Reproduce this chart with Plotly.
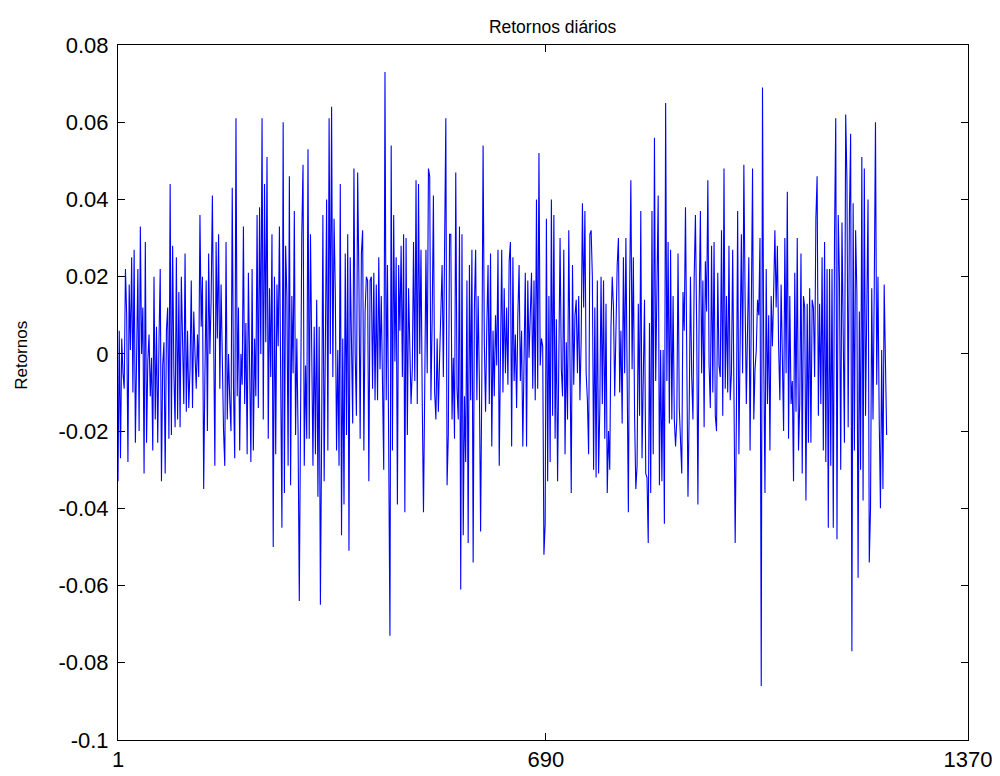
import numpy as np
import plotly.graph_objects as go

# Daily returns, in thousandths (one value every 2 days)
seg1 = [-33, 6, -27, 4, -5, -9, 22, 10, -28, 18, 1, 25, -10, 27, -23, 8, 22, -20, 33, 0,
        12, -31, 29, -23, -2, 5, -11, -1, -25, 20, -17, 7, -23, 3, 22, -33, -3, 3, -31, 6,
        12, -22, 44, -21, 28, -5, -19, 25, -17, 16, -19, 20, 2, -13, 26, -15, 6, -14, -4, 19,
        -14, 11, 0, -9, 5, -6]
seg2 = [36, 7, 20, -35, -5, 19, -20, 26, 0, 14, 41, 10, -29, 29, 4, 31, -9, 18, -6, -20,
        -29, 29, -17, 0, -12, -20, 43, -9, -27, 61, -11, 12, -25, 0, -8, 33, -13, 8, -26, 21,
        -3, -28, 22, -25, 4, -11, 36, -14, 38, 0, 61, -17, 44, 3, 51, -22, 17, -6, 31, -50,
        20, -26, 18, 2, 33, -10, -45, 60, -36]
seg3 = [28, 15, -29, 46, -34, 15, -5, 37, -21, 4, -20, -64, -17, 31, 49, -29, -3, -22, 53, -22,
        31, 3, -29, 7, -26, 14, -37, 7, -65, -20, 36, -33, 8, 40, -25, 61, 0, 64, -6, 35,
        16, -25, 1, -29, 44, -47, 4, -39, 26, -21, 31, -51, 25, 7, -18, 48, 0, -16, 47, 19,
        -22, 26, 32, -25, 11, 20, 19, -33, 19]
seg4 = [20, -9, 21, -12, 18, -12, 25, -4, 15, -10, -30, 73, -12, 23, -18, -73, 54, -25, 36, -2,
        25, -39, 23, 6, 28, -6, 31, -41, 30, -21, 17, 2, -13, -4, 29, -7, 45, -13, 44, 0,
        27, -12, -41, -9, 27, -5, 48, 46, -12, 9, 41, -10, -17, 4, -15, -1, 16, 23, -6, 31,
        61, -34, -21, 31, 31, -17, -1, -22, 47]
seg5 = [-9, -17, 33, -61, 31, -47, -11, -28, 19, -49, 23, -12, 27, -54, 12, 27, -12, 15, -7, -46,
        -6, 54, 3, -15, 7, 23, -13, 26, -24, 6, -11, 10, -3, 27, -29, -6, 27, -10, 17, -5,
        12, -8, 24, 29, -24, 25, -7, 5, -14, 10, 23, -7, 6, -24, -4, 21, -24, 19, -1, 8,
        21, -9, 19, -12, 40, -9, 52, -3, 4]
seg6 = [2, -52, -44, 35, -33, 15, -28, 40, -16, 36, -22, 9, -33, 3, 30, -4, -11, 27, -26, 3,
        -17, 32, -14, -36, 23, -8, 10, 14, -5, 15, -12, 4, 39, 12, 37, -5, -12, -26, 31, 32,
        20, -30, 12, -32, 19, -31, -14, 20, -13, 19, -22, 13, -36, -20, -30, 7, 20, 12, -11, 7,
        23, 30, -10, 6, -18, 25, -5, 30, 1, -41, 16, 45, -4]
seg7 = [25, -16, -35, -29, 13, -16, 37, -27, -5, 14, -31, -32, -49, 8, -36, 37, -26, 56, -7, 25,
        41, -34, 1, -33, 1, -44, 65, -7, 29, -18, 27, -17, 15, -17, -24, -17, 26, -14, -21, -31,
        16, 6, 38, -3, -37, -14, 20, -6, -17, 20, 36, 7, -39, 12, 37, -5, 19, -19, 24, 11,
        45, -3, -14, 28, -10, 29, -16, -20, 21, -3, -6, 32, -16]
seg8 = [48, -9, 15, -10, 28, -12, -5, 27, -9, -49, -16, 37, -26, 5, 31, -5, 49, 14, -13, 7,
        25, -25, 6, 48, -17, -4, 1, 14, 10, 30, -86, 69, -1, -36, 22, -13, 10, -25, 15, 2,
        16, 32, 12, 28, 2, -12, 18, -4, -20, 30, -5, 42, -22, 15, -13, -7, -33, 21, -15, 30,
        -25, -13, 26, -31, 15, 12, -38, 13, -23, 17, -23, 14, 12]
seg9 = [-6, 35, 46, -16, 13, -13, 25, -25, 29, -28, 22, -45, 22, -29, 22, -45, 30, 61, -48, 36,
        19, -30, 34, 7, -23, 62, 45, -19, 36, 57, -77, 39, -25, 32, 16, -58, 11, -30, 51, -38,
        48, -16, 9, 40, -54, -40, 17, -17, 17, 60, -8, 20, -17, -40, 1, -35, 18, -5, -21]

day_step = 2
x_tickvals = [1, 690, 1370]
x_ticktext = ["1", "690", "1370"]
y_tickvals = [-0.1, -0.08, -0.06, -0.04, -0.02, 0, 0.02, 0.04, 0.06, 0.08]
y_ticktext = ["-0.1", "-0.08", "-0.06", "-0.04", "-0.02", "0", "0.02", "0.04", "0.06", "0.08"]

returns = np.array(seg1 + seg2 + seg3 + seg4 + seg5 + seg6 + seg7 + seg8 + seg9) / 1000.0
days = 1 + day_step * np.arange(len(returns))

FONT = "Liberation Sans, Arial, sans-serif"

fig = go.Figure()
fig.add_trace(go.Scatter(x=days, y=returns, mode="lines",
                         line=dict(color="#0000ff", width=1.1), showlegend=False))

axis_common = dict(showline=True, linecolor="black", linewidth=1, mirror="allticks",
                   ticks="inside", ticklen=7, tickcolor="black", showgrid=False,
                   zeroline=False, automargin=False,
                   tickfont=dict(family=FONT, size=22, color="black"))

fig.update_layout(
    width=992, height=768,
    paper_bgcolor="white", plot_bgcolor="white",
    margin=dict(l=110, r=32, t=37, b=36),
    title=dict(text="Retornos diários", x=0.549, xanchor="center", y=0.975, yanchor="middle",
               font=dict(family=FONT, size=17.5, color="black")),
    xaxis=dict(range=[1, 1370], tickvals=x_tickvals, ticktext=x_ticktext, ticklabelstandoff=0,
               **axis_common),
    yaxis=dict(range=[-0.1, 0.08], tickvals=y_tickvals, ticktext=y_ticktext,
               ticklabelstandoff=4, **axis_common),
    annotations=[dict(text="Retornos", textangle=-90, xref="paper", x=0, xshift=-96,
                      yref="y", y=-0.0005, xanchor="center", yanchor="middle", showarrow=False,
                      font=dict(family=FONT, size=17, color="black"))],
)

fig.write_html("out.html")
